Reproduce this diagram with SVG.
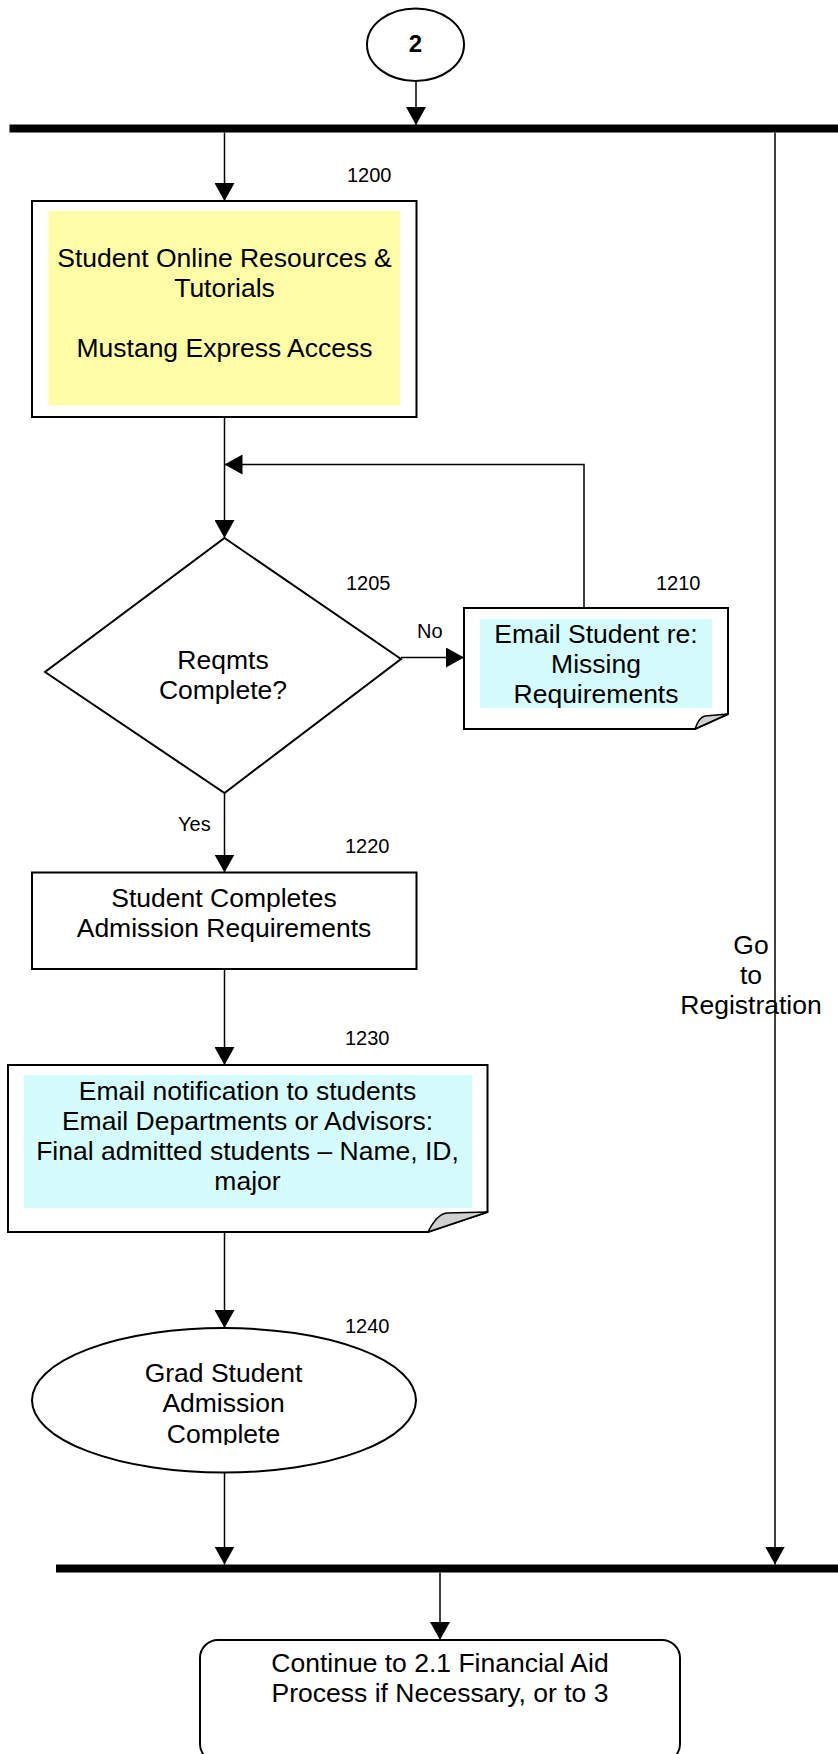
<svg xmlns="http://www.w3.org/2000/svg" width="838" height="1754" viewBox="0 0 838 1754">
<style>
text{font-family:"Liberation Sans",Arial,sans-serif;fill:#000}
.t{font-size:26.5px;text-anchor:middle}
.l{font-size:20px}
.b{fill:#fff;stroke:#000;stroke-width:2}
.c{fill:none;stroke:#000;stroke-width:1.5}
.bar{fill:#000}
.fold{fill:#d0d0d0;stroke:#000;stroke-width:1.5;stroke-linejoin:round}
</style>
<defs>
<marker id="ah" viewBox="0 0 18 20" refX="18" refY="10" markerWidth="18" markerHeight="20" markerUnits="userSpaceOnUse" orient="auto">
<path d="M0,0 L18,10 L0,20 Z" fill="#000"/>
</marker>
<clipPath id="clipE"><rect x="0" y="1300" width="500" height="145"/></clipPath>
</defs>

<g id="bars">
<rect class="bar" x="9.5" y="124.5" width="828.5" height="8"/>
<rect class="bar" x="56" y="1564.5" width="782" height="8"/>
</g>

<g id="connectors">
<path class="c" d="M416,81 V125" marker-end="url(#ah)"/>
<path class="c" d="M224.5,132.5 V201" marker-end="url(#ah)"/>
<path class="c" d="M224.5,417 V538" marker-end="url(#ah)"/>
<path class="c" d="M584,608 V464.5 H224.5" marker-end="url(#ah)"/>
<path class="c" d="M401,657.5 H464" marker-end="url(#ah)"/>
<path class="c" d="M224.5,793 V872.5" marker-end="url(#ah)"/>
<path class="c" d="M224.5,969 V1065" marker-end="url(#ah)"/>
<path class="c" d="M224.5,1232 V1328" marker-end="url(#ah)"/>
<path class="c" d="M224.5,1473 V1564.5" marker-end="url(#ah)"/>
<path class="c" d="M775,132.5 V1564.5" marker-end="url(#ah)"/>
<path class="c" d="M440,1572.5 V1640" marker-end="url(#ah)"/>
<text class="l" x="417" y="638">No</text>
<text class="l" x="178" y="831">Yes</text>
<text class="t" x="751" y="954">Go</text>
<text class="t" x="751" y="984">to</text>
<text class="t" x="751" y="1014">Registration</text>
</g>

<g id="start2">
<ellipse class="b" cx="415.5" cy="44.7" rx="48.5" ry="36.3" stroke-width="1.5"/>
<text x="415.5" y="52" style="font-size:24px;font-weight:bold;text-anchor:middle">2</text>
</g>

<g id="n1200">
<rect class="b" x="32" y="201" width="384.5" height="216"/>
<rect x="48.5" y="211" width="351.5" height="194.5" fill="#fffca6"/>
<text class="t" x="224.5" y="267">Student Online Resources &amp;</text>
<text class="t" x="224.5" y="297">Tutorials</text>
<text class="t" x="224.5" y="357">Mustang Express Access</text>
<text class="l" x="347" y="182">1200</text>
</g>

<g id="n1205">
<polygon class="b" points="224.5,538 401,659 224.5,793 45,672" stroke-width="1.5"/>
<text class="t" x="223" y="669">Reqmts</text>
<text class="t" x="223" y="699">Complete?</text>
<text class="l" x="346" y="590">1205</text>
</g>

<g id="n1210">
<path class="b" d="M464,608 H728 V714 L695,729 H464 Z"/>
<rect x="480" y="619" width="232" height="89" fill="#d4fcfc"/>
<path class="fold" d="M695,729 Q699,717 705,716 L728,714 Z"/>
<text class="t" x="596" y="643">Email Student re:</text>
<text class="t" x="596" y="673">Missing</text>
<text class="t" x="596" y="703">Requirements</text>
<text class="l" x="656" y="590">1210</text>
</g>

<g id="n1220">
<rect class="b" x="32" y="872.5" width="384.5" height="96.5"/>
<text class="t" x="224" y="907">Student Completes</text>
<text class="t" x="224" y="937">Admission Requirements</text>
<text class="l" x="345" y="853">1220</text>
</g>

<g id="n1230">
<path class="b" d="M8,1065 H487.5 V1212 L428,1232 H8 Z"/>
<rect x="24" y="1075" width="448" height="133" fill="#d4fcfc"/>
<path class="fold" d="M428,1232 Q437,1214 447,1213 L487.5,1212 Z"/>
<text class="t" x="247.5" y="1100">Email notification to students</text>
<text class="t" x="247.5" y="1130">Email Departments or Advisors:</text>
<text class="t" x="247.5" y="1160">Final admitted students – Name, ID,</text>
<text class="t" x="247.5" y="1190">major</text>
<text class="l" x="345" y="1045">1230</text>
</g>

<g id="n1240">
<ellipse class="b" cx="224" cy="1400.3" rx="192" ry="72.3" stroke-width="1.5"/>
<g clip-path="url(#clipE)">
<text class="t" x="223.5" y="1382">Grad Student</text>
<text class="t" x="223.5" y="1412">Admission</text>
<text class="t" x="223.5" y="1443">Complete</text>
</g>
<text class="l" x="345" y="1333">1240</text>
</g>

<g id="end">
<rect class="b" x="200" y="1640" width="480" height="122" rx="18" ry="18"/>
<text class="t" x="440" y="1672">Continue to 2.1 Financial Aid</text>
<text class="t" x="440" y="1702">Process if Necessary, or to 3</text>
</g>
</svg>
